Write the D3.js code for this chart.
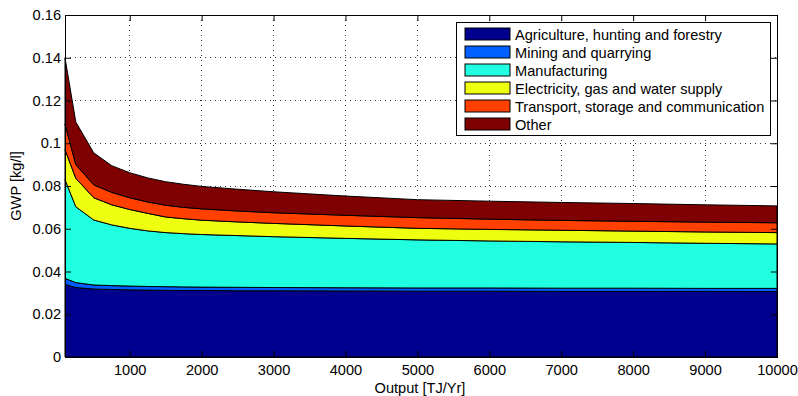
<!DOCTYPE html>
<html>
<head>
<meta charset="utf-8">
<script src="https://cdn.jsdelivr.net/npm/d3@7"></script>
<style>
  body { margin: 0; background: #fff; }
  svg { font-family: "Liberation Sans", Arial, sans-serif; }
</style>
</head>
<body>
<script>
// Données
const output = [100, 250, 500, 750, 1000, 1250, 1500, 1750, 2000, 2500, 3000, 4000, 5000, 6000, 7000, 8000, 9000, 10000];

const agriculture = [0.0340, 0.0325, 0.0318, 0.0316, 0.0314, 0.0313, 0.0312, 0.0311, 0.0311, 0.0310, 0.0310, 0.0309, 0.0308, 0.0308, 0.0307, 0.0307, 0.0307, 0.0306];
const mining = [0.0028, 0.0023, 0.0019, 0.0018, 0.0018, 0.0017, 0.0017, 0.0017, 0.0016, 0.0016, 0.0015, 0.0015, 0.0015, 0.0015, 0.0015, 0.0015, 0.0014, 0.0015];
const manufacturing = [0.0462, 0.0355, 0.0304, 0.0284, 0.0270, 0.0260, 0.0253, 0.0249, 0.0246, 0.0242, 0.0238, 0.0231, 0.0225, 0.0220, 0.0217, 0.0214, 0.0211, 0.0208];
const electricity = [0.0140, 0.0133, 0.0104, 0.0094, 0.0088, 0.0082, 0.0073, 0.0070, 0.0067, 0.0064, 0.0062, 0.0058, 0.0054, 0.0054, 0.0054, 0.0053, 0.0053, 0.0053];
const transport = [0.0120, 0.0064, 0.0060, 0.0058, 0.0055, 0.0053, 0.0055, 0.0053, 0.0053, 0.0051, 0.0050, 0.0050, 0.0050, 0.0048, 0.0046, 0.0046, 0.0046, 0.0046];
const other = [0.0310, 0.0200, 0.0150, 0.0125, 0.0117, 0.0113, 0.0110, 0.0108, 0.0105, 0.0102, 0.0098, 0.0090, 0.0084, 0.0084, 0.0084, 0.0083, 0.0081, 0.0079];

const sectors = ["Agriculture, hunting and forestry", "Mining and quarrying", "Manufacturing",
  "Electricity, gas and water supply", "Transport, storage and communication", "Other"];
const colors = ["#00008f", "#0060ff", "#20ffdf", "#efff10", "#ff4000", "#7f0000"];

const xTicks = [1000, 2000, 3000, 4000, 5000, 6000, 7000, 8000, 9000, 10000];
const yTicks = [0, 0.02, 0.04, 0.06, 0.08, 0.1, 0.12, 0.14, 0.16];

// Tableau pour d3.stack
const series = [agriculture, mining, manufacturing, electricity, transport, other];
const table = output.map((x, i) => {
  const row = { x: x };
  sectors.forEach((s, k) => { row[s] = series[k][i]; });
  return row;
});

const W = 798, H = 396;
const margin = { top: 15, right: 21, bottom: 39, left: 65 };
const width = W - margin.left - margin.right;
const height = H - margin.top - margin.bottom;
const fontSize = 14.6;

const svg = d3.select("body").append("svg")
  .attr("width", W)
  .attr("height", H);

const g = svg.append("g")
  .attr("transform", `translate(${margin.left},${margin.top})`);

const x = d3.scaleLinear().domain([100, 10000]).range([0, width]);
const y = d3.scaleLinear().domain([0, 0.16]).range([height, 0]);

// Grille pointillée
g.append("g").selectAll("line")
  .data(xTicks.slice(0, -1))
  .join("line")
  .attr("x1", d => x(d)).attr("x2", d => x(d))
  .attr("y1", 0).attr("y2", height)
  .attr("stroke", "#333").attr("stroke-width", 1)
  .attr("stroke-dasharray", "1,4")
  .attr("shape-rendering", "crispEdges");

g.append("g").selectAll("line")
  .data(yTicks.slice(1, -1))
  .join("line")
  .attr("x1", 0).attr("x2", width)
  .attr("y1", d => y(d)).attr("y2", d => y(d))
  .attr("stroke", "#333").attr("stroke-width", 1)
  .attr("stroke-dasharray", "1,4")
  .attr("shape-rendering", "crispEdges");

// Aires empilées
const stack = d3.stack().keys(sectors);
const layers = stack(table);

const area = d3.area()
  .x(d => x(d.data.x))
  .y0(d => y(d[0]))
  .y1(d => y(d[1]));

g.append("g").selectAll("path")
  .data(layers)
  .join("path")
  .attr("d", area)
  .attr("fill", (d, i) => colors[i])
  .attr("stroke", "#000")
  .attr("stroke-width", 1)
  .attr("stroke-linejoin", "round");

// Axes (ticks vers l'intérieur, comme Matlab)
const tickLen = 6;
const xAxis = g.append("g")
  .attr("transform", `translate(0,${height})`)
  .call(d3.axisBottom(x).tickValues(xTicks).tickSize(-tickLen).tickPadding(8).tickFormat(d3.format("d")).tickSizeOuter(0));
const xAxisTop = g.append("g")
  .call(d3.axisTop(x).tickValues(xTicks).tickSize(-tickLen).tickFormat("").tickSizeOuter(0));
const yAxis = g.append("g")
  .call(d3.axisLeft(y).tickValues(yTicks).tickSize(-tickLen).tickPadding(4).tickFormat(d3.format("~g")).tickSizeOuter(0));
const yAxisRight = g.append("g")
  .attr("transform", `translate(${width},0)`)
  .call(d3.axisRight(y).tickValues(yTicks).tickSize(-tickLen).tickFormat("").tickSizeOuter(0));

[xAxis, xAxisTop, yAxis, yAxisRight].forEach(a => {
  a.select(".domain").remove();
  a.selectAll("line").attr("stroke", "#000");
  a.selectAll("text").attr("font-size", fontSize).attr("fill", "#000")
    .attr("font-family", "'Liberation Sans', Arial, sans-serif");
});

// Cadre
g.append("rect")
  .attr("width", width).attr("height", height)
  .attr("fill", "none").attr("stroke", "#000").attr("stroke-width", 1)
  .attr("shape-rendering", "crispEdges");

// Titres d'axes
svg.append("text")
  .attr("x", margin.left + width / 2 - 1)
  .attr("y", 393)
  .attr("text-anchor", "middle")
  .attr("font-size", fontSize)
  .text("Output [TJ/Yr]");

svg.append("text")
  .attr("transform", `translate(21,${margin.top + height / 2}) rotate(-90)`)
  .attr("text-anchor", "middle")
  .attr("font-size", fontSize)
  .text("GWP [kg/l]");

// Légende
const legend = svg.append("g").attr("transform", "translate(456,22)");
legend.append("rect")
  .attr("width", 314).attr("height", 113)
  .attr("fill", "#fff").attr("stroke", "#000").attr("stroke-width", 1)
  .attr("shape-rendering", "crispEdges");

const item = legend.selectAll(".item")
  .data(sectors)
  .join("g")
  .attr("class", "item")
  .attr("transform", (d, i) => `translate(9,${6 + i * 18})`);

item.append("rect")
  .attr("width", 45).attr("height", 12)
  .attr("fill", (d, i) => colors[i])
  .attr("stroke", "#000").attr("stroke-width", 1);

item.append("text")
  .attr("x", 50).attr("y", 11.5)
  .attr("font-size", fontSize)
  .text(d => d);
</script>
</body>
</html>
